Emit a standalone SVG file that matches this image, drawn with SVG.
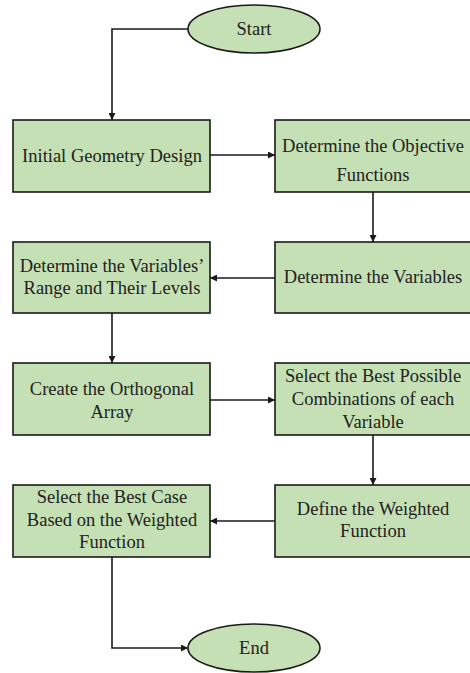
<svg xmlns="http://www.w3.org/2000/svg" width="470" height="673" viewBox="0 0 470 673">
<style>
.n{fill:#c5e0b4;stroke:#1a1a1a;stroke-width:1.6}
.t{font-family:"Liberation Serif","Times New Roman",serif;font-size:18.5px;fill:#222;text-anchor:middle}
.c{fill:none;stroke:#1a1a1a;stroke-width:1.6}
</style>
<defs>
<marker id="a" viewBox="0 0 10 10" refX="10" refY="5" markerWidth="7" markerHeight="7" markerUnits="userSpaceOnUse" orient="auto"><path d="M0,0L10,5L0,10z" fill="#1a1a1a"/></marker>
</defs>
<rect width="470" height="673" fill="#fff"/>
<g id="connectors">
<path class="c" d="M188,29H112V120" marker-end="url(#a)"/>
<path class="c" d="M210,155H275" marker-end="url(#a)"/>
<path class="c" d="M373,192V242" marker-end="url(#a)"/>
<path class="c" d="M275,278H210" marker-end="url(#a)"/>
<path class="c" d="M112,313V363" marker-end="url(#a)"/>
<path class="c" d="M210,400H275" marker-end="url(#a)"/>
<path class="c" d="M373,435V485" marker-end="url(#a)"/>
<path class="c" d="M275,521H210" marker-end="url(#a)"/>
<path class="c" d="M112,557V648H188" marker-end="url(#a)"/>
</g>
<g id="start"><ellipse class="n" cx="254" cy="29" rx="66" ry="24"/><text class="t" x="254" y="35">Start</text></g>
<g id="initial"><rect class="n" x="13" y="120" width="197" height="72"/><text class="t" x="112" y="162">Initial Geometry Design</text></g>
<g id="objective"><rect class="n" x="275" y="120" width="197" height="72"/><text class="t" x="373" y="152">Determine the Objective</text><text class="t" x="373" y="181">Functions</text></g>
<g id="variables"><rect class="n" x="275" y="242" width="197" height="71"/><text class="t" x="373" y="283">Determine the Variables</text></g>
<g id="range"><rect class="n" x="13" y="242" width="197" height="71"/><text class="t" x="112" y="272">Determine the Variables’</text><text class="t" x="112" y="294">Range and Their Levels</text></g>
<g id="orthogonal"><rect class="n" x="13" y="363" width="197" height="72"/><text class="t" x="112" y="395">Create the Orthogonal</text><text class="t" x="112" y="418">Array</text></g>
<g id="combinations"><rect class="n" x="275" y="363" width="197" height="72"/><text class="t" x="373" y="382">Select the Best Possible</text><text class="t" x="373" y="405">Combinations of each</text><text class="t" x="373" y="428">Variable</text></g>
<g id="weighted"><rect class="n" x="275" y="485" width="197" height="72"/><text class="t" x="373" y="515">Define the Weighted</text><text class="t" x="373" y="537">Function</text></g>
<g id="bestcase"><rect class="n" x="13" y="485" width="197" height="72"/><text class="t" x="112" y="503">Select the Best Case</text><text class="t" x="112" y="526">Based on the Weighted</text><text class="t" x="112" y="548">Function</text></g>
<g id="end"><ellipse class="n" cx="254" cy="648" rx="66" ry="24"/><text class="t" x="254" y="654">End</text></g>
</svg>
